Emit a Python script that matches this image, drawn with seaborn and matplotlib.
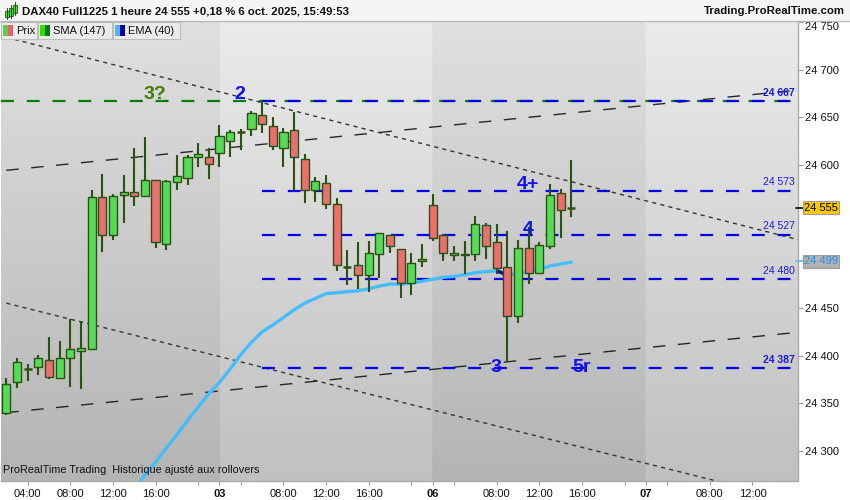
import numpy as np
import matplotlib
matplotlib.use('Agg')
import matplotlib.pyplot as plt
import matplotlib.transforms as mtransforms
from matplotlib.patches import Rectangle
import seaborn as sns

# --- chart values (hourly candles, DAX40 Full1225) ---
opens = [24340, 24372, 24386, 24388, 24395, 24377, 24397, 24405, 24407, 24566,
         24526, 24568, 24572, 24567, 24584, 24517, 24582, 24586, 24608, 24608,
         24612, 24625, 24635, 24638, 24652, 24641, 24618, 24637, 24606, 24574,
         24581, 24559, 24493, 24495, 24485, 24507, 24526, 24512, 24476, 24499,
         24558, 24527, 24506, 24505, 24507, 24537, 24519, 24493, 24442, 24513,
         24487, 24515, 24570, 24555]
highs = [24376, 24397, 24391, 24401, 24420, 24415, 24438, 24436, 24574, 24590,
         24570, 24589, 24618, 24629, 24584, 24584, 24610, 24610, 24623, 24618,
         24642, 24637, 24638, 24656, 24667, 24650, 24639, 24655, 24611, 24587,
         24589, 24565, 24511, 24519, 24520, 24529, 24527, 24512, 24508, 24517,
         24570, 24528, 24515, 24520, 24546, 24539, 24538, 24531, 24521, 24535,
         24519, 24580, 24575, 24605]
lows = [24338, 24366, 24373, 24380, 24375, 24377, 24367, 24365, 24406, 24509,
        24521, 24539, 24557, 24567, 24513, 24511, 24574, 24579, 24598, 24585,
        24598, 24608, 24616, 24630, 24633, 24616, 24598, 24574, 24560, 24561,
        24554, 24489, 24474, 24470, 24467, 24481, 24508, 24460, 24464, 24493,
        24520, 24499, 24499, 24486, 24499, 24501, 24486, 24393, 24434, 24475,
        24487, 24512, 24523, 24545]
closes = [24370, 24393, 24386, 24397, 24378, 24397, 24407, 24408, 24566, 24526,
          24567, 24572, 24567, 24584, 24519, 24583, 24588, 24608, 24611, 24601,
          24630, 24634, 24635, 24654, 24643, 24620, 24635, 24608, 24574, 24583,
          24559, 24495, 24493, 24485, 24508, 24529, 24515, 24476, 24497, 24501,
          24523, 24508, 24508, 24507, 24538, 24515, 24492, 24442, 24513, 24487,
          24516, 24568, 24553, 24555]

ema_start = 12
ema40 = [24259, 24275, 24288, 24303, 24317, 24332, 24346, 24360, 24372, 24386,
         24401, 24414, 24425, 24432, 24440, 24448, 24455, 24460, 24465, 24466,
         24467, 24468, 24470, 24473, 24475, 24475, 24476, 24478, 24480, 24482,
         24483, 24485, 24487, 24488, 24489, 24484.5, 24486, 24488, 24490, 24494,
         24496, 24498]

levels = [24667, 24573, 24527, 24480, 24387]
level_bold = [True, False, False, False, True]

# trend lines: value at bar 0 and at bar 75
channel_up = (24594.3, 24679.4)
channel_low = (24340.2, 24425.3)
falling_up = (24733.8, 24519.5)
falling_low = (24455.0, 24245.0)

tick_bars = [2, 6, 10, 14, 20, 26, 30, 34, 40, 46, 50, 54, 60, 66, 70]
tick_labels = ['04:00', '08:00', '12:00', '16:00', '03', '08:00', '12:00', '16:00',
               '06', '08:00', '12:00', '16:00', '07', '08:00', '12:00']
day_labels = {'03', '06', '07'}
minor_bars = [18, 22, 38, 42, 58, 62]

last_price = 24555
ema_last = 24499

# --- style ---
sns.set_style('white')
plt.rcParams['font.family'] = ['Liberation Sans', 'DejaVu Sans']

W, H = 850, 500
fig = plt.figure(figsize=(8.5, 5), dpi=100)
fig.patch.set_facecolor('white')


def fx(px):
    return px / W


def fy(py):
    return 1 - py / H


ax = fig.add_axes([fx(1), 19 / H, 797 / W, 460 / H])
x0, x1 = -0.497, 74.27
y0, y1 = 24268.5, 24750.9

# background: vertical gradient, alternating day bands
xs = np.linspace(x0, x1, 800)
dark = (xs < 20) | ((xs >= 40) & (xs < 60))
t = np.linspace(0, 1, 300)[:, None]
top = np.where(dark, 0xe0, 0xeb)[None, :] / 255
bot = np.where(dark, 0xb4, 0xc0)[None, :] / 255
g = top + (bot - top) * t
bg = np.dstack([g, g, g])
ax.imshow(bg, extent=(x0, x1, y0, y1), aspect='auto', origin='upper', zorder=0)

# trend lines
bars_line = np.array([0, 75])
ax.plot(bars_line, channel_up, color='#262626', lw=1.0, ls=(0, (9, 9)), zorder=2)
ax.plot(bars_line, channel_low, color='#262626', lw=1.0, ls=(0, (9, 9)), zorder=2)
ax.plot(bars_line, falling_up, color='#333333', lw=1.0, ls=(0, (3, 3)), zorder=2)
ax.plot(bars_line, falling_low, color='#333333', lw=1.0, ls=(0, (3, 3)), zorder=2)

# horizontal levels
ax.plot([x0, 74.0], [levels[0], levels[0]], color='#008000', lw=1.6,
        ls=(0, (5.8, 5.8)), zorder=3)
for lv, b in zip(levels, level_bold):
    ax.plot([24, 74.0], [lv, lv], color='#0000ee', lw=1.6, ls=(0, (5.8, 5.8)), zorder=3)
    ax.text(74.0, lv + 3.5, f"{lv // 1000} {lv % 1000:03d}", color='#1a1ae6',
            fontsize=7.5, fontweight='bold' if b else 'normal',
            ha='right', va='bottom', zorder=6)

# EMA 40
ema_bars = np.arange(ema_start, ema_start + len(ema40))
sns.lineplot(x=ema_bars, y=ema40, color='#45bdfd', lw=2.4, ax=ax, zorder=4,
             legend=False)
k = 46 - ema_start
ax.plot(ema_bars[k:k + 2], ema40[k:k + 2], color='#0a0a8c', lw=2.4, zorder=4.5,
        solid_capstyle='butt')

# candles
edge = '#2b5214'
bars = np.arange(len(opens))
for i, o, h, l, c in zip(bars, opens, highs, lows, closes):
    ax.vlines(i, l, h, color=edge, lw=1.5, zorder=5)
    if o == c:
        ax.hlines(o, i - 0.38, i + 0.38, color=edge, lw=1.8, zorder=5.5)
    else:
        fc = '#55db55' if c > o else '#e8706e'
        ax.bar(i, abs(c - o), bottom=min(o, c), width=0.76, color=fc,
               edgecolor=edge, linewidth=1.0, zorder=5.5)

# wave labels
ax.text(13.95, 24674.3, '3?', color='#3f7d00', fontsize=14, fontweight='bold',
        ha='center', va='center', zorder=7)
for tx, ty, s in [(21.92, 24674.3, '2'), (48.94, 24579, '4+'), (48.97, 24532.2, '4'),
                  (45.94, 24387.5, '3'), (54.0, 24387.5, '5r')]:
    ax.text(tx, ty, s, color='#1010f0', fontsize=14, fontweight='bold',
            ha='center', va='center', zorder=7)

ax.text(0.003, 0.012, 'ProRealTime Trading  Historique ajusté aux rollovers',
        transform=ax.transAxes, fontsize=7.8, color='#111111', ha='left',
        va='bottom', zorder=7)

ax.set_xlim(x0, x1)
ax.set_ylim(y0, y1)

# axes / ticks
ax.yaxis.tick_right()
yt = [v for v in range(24300, 24751, 50) if v not in (24500, 24550)]
ax.set_yticks(yt)
ax.set_yticklabels([f"{v // 1000} {v % 1000:03d}" for v in yt])
ax.tick_params(axis='y', right=True, length=3.5, width=0.8, color='#999999',
               pad=1.5, labelsize=8, labelcolor='#111111')
# top label sits just under the header, as in the reference
ax.get_yticklabels()[-1].set_va('top')
ax.set_xticks(tick_bars)
ax.set_xticks(minor_bars, minor=True)
ax.set_xticklabels(tick_labels)
for lab in ax.get_xticklabels():
    if lab.get_text() in day_labels:
        lab.set_fontweight('bold')
ax.tick_params(axis='x', which='both', bottom=True, length=3, width=0.8,
               color='#999999', pad=3, labelsize=8, labelcolor='#111111')
for s in ['top', 'left']:
    ax.spines[s].set_visible(False)
for s in ['right', 'bottom']:
    ax.spines[s].set_color('#aaaaaa')
    ax.spines[s].set_linewidth(1.0)

# price boxes on right axis
trans = mtransforms.blended_transform_factory(ax.transAxes, ax.transData)
ax.plot([0.998, 1.008], [last_price, last_price], color='black', lw=1.2,
        transform=trans, clip_on=False, zorder=8)
ax.text(1.0075, last_price, f"{last_price // 1000} {last_price % 1000:03d}",
        transform=trans, fontsize=8, color='black', ha='left', va='center',
        bbox=dict(boxstyle='square,pad=0.12', fc='#fcc800', ec='#a0a0a0', lw=0.8),
        clip_on=False, zorder=9)
ax.plot([0.998, 1.008], [ema_last, ema_last], color='#45bdfd', lw=1.2,
        transform=trans, clip_on=False, zorder=8)
ax.text(1.0075, ema_last, f"{ema_last // 1000} {ema_last % 1000:03d}",
        transform=trans, fontsize=8, color='#2f8fd8', ha='left', va='center',
        bbox=dict(boxstyle='square,pad=0.12', fc='#b2b2b2', ec='#999999', lw=0.8),
        clip_on=False, zorder=9)

# header strip
fig.patches.append(Rectangle((0, fy(20)), 1, 20 / H, transform=fig.transFigure,
                             fc='#f5f5f5', ec='none', zorder=0))
fig.lines.append(plt.Line2D([0, 1], [fy(20.5), fy(20.5)], transform=fig.transFigure,
                            color='#b8b8b8', lw=1.0))
for cx, by, tt, hh in [(7, 9, 6, 8), (11, 6, 8, 10), (15, 3, 6, 10)]:
    fig.lines.append(plt.Line2D([fx(cx), fx(cx)], [fy(by + hh + 2), fy(by - 1)],
                                transform=fig.transFigure, color=edge, lw=0.8))
    fig.patches.append(Rectangle((fx(cx - 1.6), fy(by + hh)), 3.2 / W, (hh - 2) / H,
                                 transform=fig.transFigure, fc='#55db55', ec=edge,
                                 lw=0.6))
fig.text(fx(22), fy(11), 'DAX40 Full1225 1 heure 24 555 +0,18 % 6 oct. 2025, 15:49:53',
         fontsize=8.2, fontweight='bold', color='#111111', ha='left', va='center')
fig.text(fx(845), fy(11), 'Trading.ProRealTime.com', fontsize=8.2,
         fontweight='bold', color='#111111', ha='right', va='center')

# legend boxes
legend_items = [(1, 37, 'Prix', '#4fd24f', '#e06666'),
                (38, 112, 'SMA (147)', '#33dd00', '#007a00'),
                (113, 180, 'EMA (40)', '#44bbff', '#000099')]
for lx0, lx1, name, c1, c2 in legend_items:
    fig.patches.append(Rectangle((fx(lx0), fy(39)), (lx1 - lx0) / W, 17 / H,
                                 transform=fig.transFigure, fc='#ebebeb',
                                 ec='#bdbdbd', lw=0.8, zorder=10))
    fig.patches.append(Rectangle((fx(lx0 + 2), fy(36)), 5 / W, 11 / H,
                                 transform=fig.transFigure, fc=c1, ec='none',
                                 zorder=11))
    fig.patches.append(Rectangle((fx(lx0 + 7), fy(36)), 5 / W, 11 / H,
                                 transform=fig.transFigure, fc=c2, ec='none',
                                 zorder=11))
    fig.text(fx(lx0 + 15), fy(30.5), name, fontsize=8, color='#111111',
             ha='left', va='center', zorder=12)

fig.savefig('out.png', dpi=100)
